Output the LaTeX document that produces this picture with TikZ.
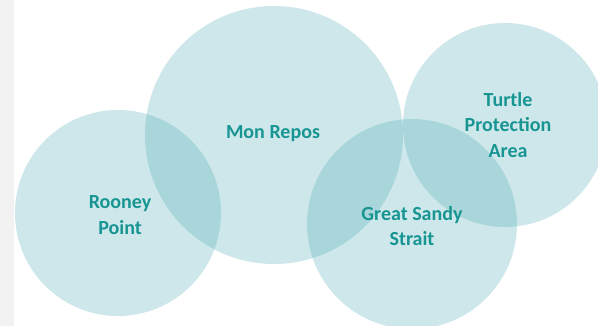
\documentclass[tikz,border=0pt]{standalone}
\usepackage{fontspec}
\setmainfont{Carlito}
\definecolor{circ}{RGB}{63,163,174}
\definecolor{txt}{RGB}{23,149,146}
\definecolor{strip}{RGB}{242,242,242}
\begin{document}
\begin{tikzpicture}[x=1pt,y=-1pt,
  bubble/.style={circle,fill=circ,fill opacity=0.26,draw=none,inner sep=0pt},
  lbl/.style={text=txt,font=\bfseries\fontsize{20}{25.5}\selectfont,align=center}]
\useasboundingbox (0,0) rectangle (598,326);
\begin{scope}
\clip (0,0) rectangle (598,326);
\fill[strip] (0,0) rectangle (14,326);
\node[bubble,minimum size=206pt] (c1) at (118,213) {};
\node[bubble,minimum size=258pt] (c2) at (274,135) {};
\node[bubble,minimum size=210pt] (c3) at (412,224) {};
\node[bubble,minimum size=204pt] (c4) at (505,125) {};
\end{scope}
\node[lbl] (t1) at (120,215) {Rooney\\Point};
\node[lbl] (t2) at (273,134) {Mon Repos};
\node[lbl] (t3) at (508,125) {Turtle\\Protection\\Area};
\node[lbl] (t4) at (412,226) {Great Sandy\\Strait};
\end{tikzpicture}
\end{document}
